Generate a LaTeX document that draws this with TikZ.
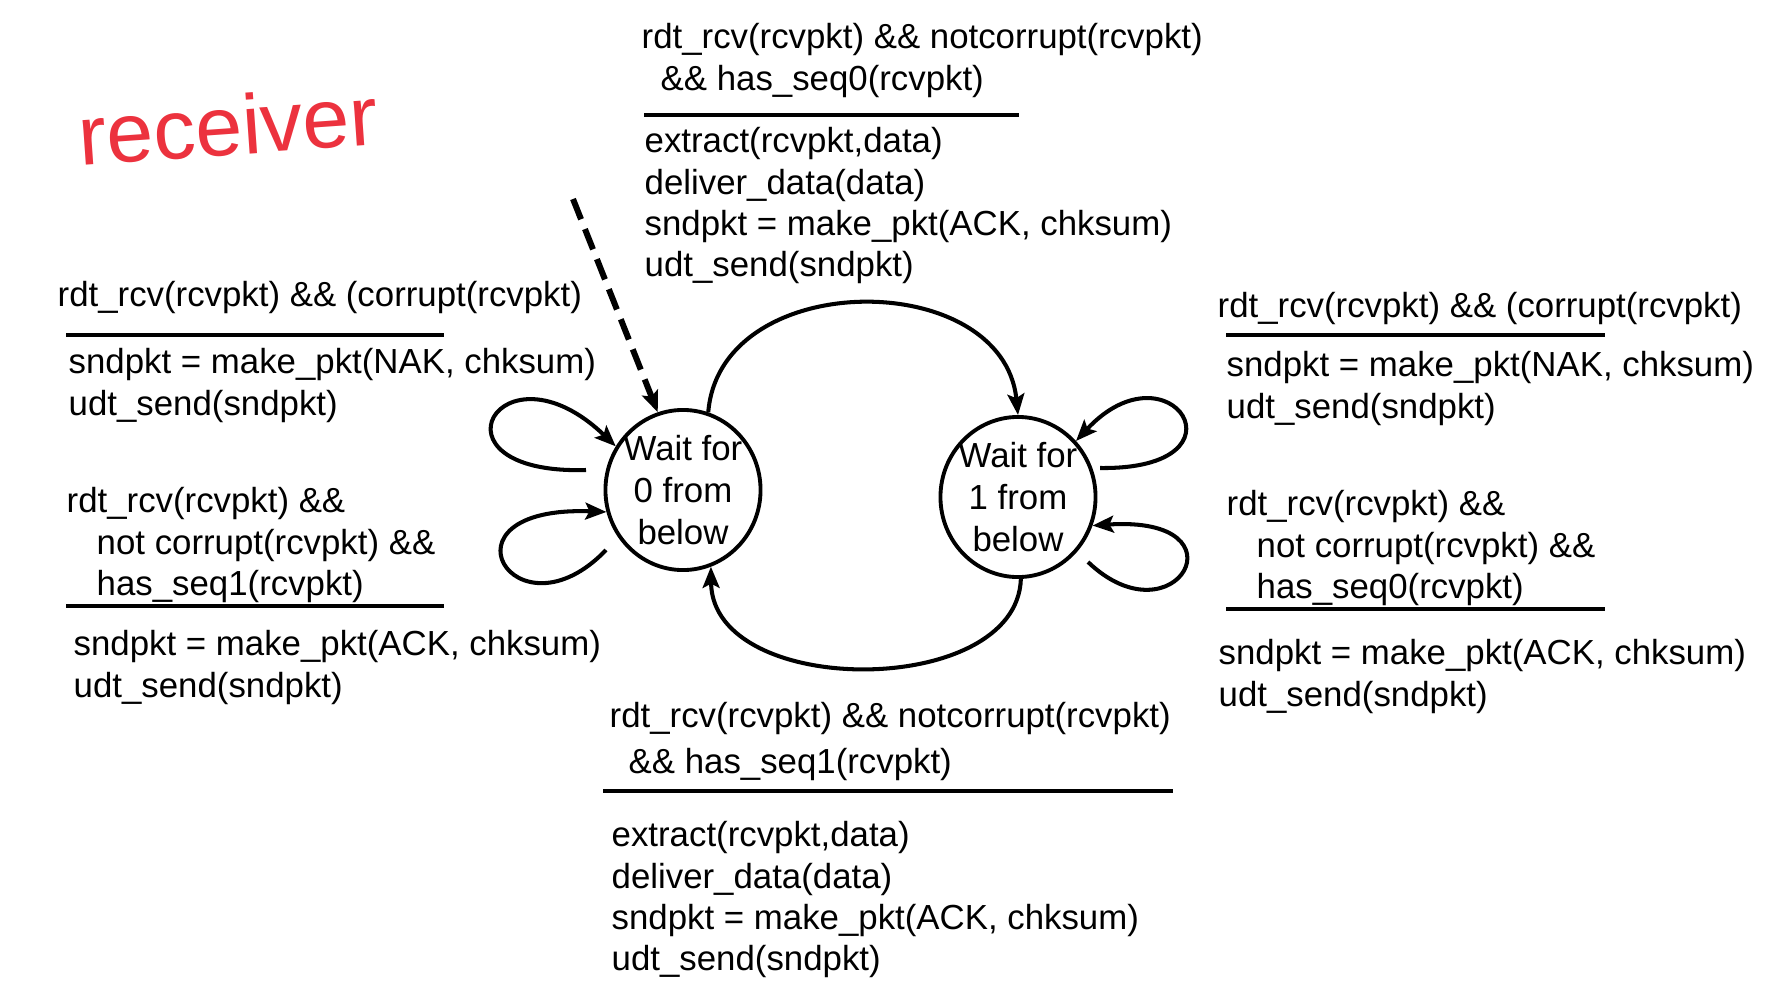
\documentclass[tikz,border=0pt]{standalone}
\usepackage{fontspec}
\setmainfont{Liberation Sans}
\usetikzlibrary{arrows.meta,shapes.geometric}
\definecolor{penred}{RGB}{236,50,62}

\begin{document}
\begin{tikzpicture}[
    x=0.01cm, y=-0.01cm,
    lbl/.style={anchor=north west, inner sep=0pt, align=left, yshift=-0.03cm,
      font=\fontsize{9.9pt}{11.7pt}\selectfont},
    state/.style={ellipse, draw, line width=1.1pt, minimum width=1.55cm,
      minimum height=1.6cm, inner sep=-0.1cm, align=center,
      font=\fontsize{9.9pt}{11.9pt}\selectfont},
    bar/.style={line width=1.4pt},
    trans/.style={line width=1.15pt,
      -{Stealth[length=6pt,width=4.8pt,inset=1.2pt]}},
    init/.style={trans, line width=1.7pt, dash pattern=on 6.2pt off 3pt},
  ]
  \useasboundingbox (0,0) rectangle (1785,1006);

  \node[text=penred, font=\fontsize{24pt}{24pt}\selectfont, rotate=4]
    (title) at (228,125) {receiver};

  % states
  \node[state] (s0) at (683,490) {Wait for\\0 from\\below};
  \node[state] (s1) at (1018,497) {Wait for\\1 from\\below};

  % top transition: seq0 accepted
  \node[lbl] (g01) at (641,20)
    {rdt\_rcv(rcvpkt) \&\& notcorrupt(rcvpkt)\\
    \hspace*{0.19cm}\&\& has\_seq0(rcvpkt)};
  \draw[bar] (644,115) -- (1019,115);
  \node[lbl] (a01) at (644,124)
    {extract(rcvpkt,data)\\deliver\_data(data)\\
    sndpkt = make\_pkt(ACK, chksum)\\udt\_send(sndpkt)};

  % bottom transition: seq1 accepted
  \node[lbl] (g10) at (609,699)
    {rdt\_rcv(rcvpkt) \&\& notcorrupt(rcvpkt)\\[1.3pt]
    \hspace*{0.19cm}\&\& has\_seq1(rcvpkt)};
  \draw[bar] (603,791) -- (1173,791);
  \node[lbl] (a10) at (611,818)
    {extract(rcvpkt,data)\\deliver\_data(data)\\
    sndpkt = make\_pkt(ACK, chksum)\\udt\_send(sndpkt)};

  % left loops
  \node[lbl] (g00a) at (57,278) {rdt\_rcv(rcvpkt) \&\& (corrupt(rcvpkt)};
  \draw[bar] (66,335) -- (444,335);
  \node[lbl] (a00a) at (68,345)
    {sndpkt = make\_pkt(NAK, chksum)\\udt\_send(sndpkt)};
  \node[lbl] (g00b) at (66,484)
    {rdt\_rcv(rcvpkt) \&\&\\
    \hspace*{0.3cm}not corrupt(rcvpkt) \&\&\\
    \hspace*{0.3cm}has\_seq1(rcvpkt)};
  \draw[bar] (66,606) -- (444,606);
  \node[lbl] (a00b) at (73,627)
    {sndpkt = make\_pkt(ACK, chksum)\\udt\_send(sndpkt)};

  % right loops
  \node[lbl] (g11a) at (1217,289) {rdt\_rcv(rcvpkt) \&\& (corrupt(rcvpkt)};
  \draw[bar] (1226,335) -- (1605,335);
  \node[lbl] (a11a) at (1226,348)
    {sndpkt = make\_pkt(NAK, chksum)\\udt\_send(sndpkt)};
  \node[lbl] (g11b) at (1226,487)
    {rdt\_rcv(rcvpkt) \&\&\\
    \hspace*{0.3cm}not corrupt(rcvpkt) \&\&\\
    \hspace*{0.3cm}has\_seq0(rcvpkt)};
  \draw[bar] (1226,609) -- (1605,609);
  \node[lbl] (a11b) at (1218,636)
    {sndpkt = make\_pkt(ACK, chksum)\\udt\_send(sndpkt)};

  % connectors
  \coordinate (start) at (573,199);
  \coordinate (t0a) at (586,470);
  \coordinate (t0b) at (606,550);
  \coordinate (t1a) at (1100,468);
  \coordinate (t1b) at (1088,562);

  \draw[init] (start) -- (s0.108);
  \draw[trans] (s0.72) .. controls (720,267) and (1003,267) .. (s1.90);
  \draw[trans] (s1.-88) .. controls (1017,699) and (712,699) .. (s0.-70);
  \draw[trans] (t0a) .. controls (420,475) and (500,335) .. (s0.147);
  \draw[trans] (t0b) .. controls (515,645) and (430,505) .. (s0.196);
  \draw[trans] (t1a) .. controls (1255,470) and (1170,340) .. (s1.44);
  \draw[trans] (t1b) .. controls (1175,645) and (1250,515) .. (s1.-21);
\end{tikzpicture}
\end{document}
